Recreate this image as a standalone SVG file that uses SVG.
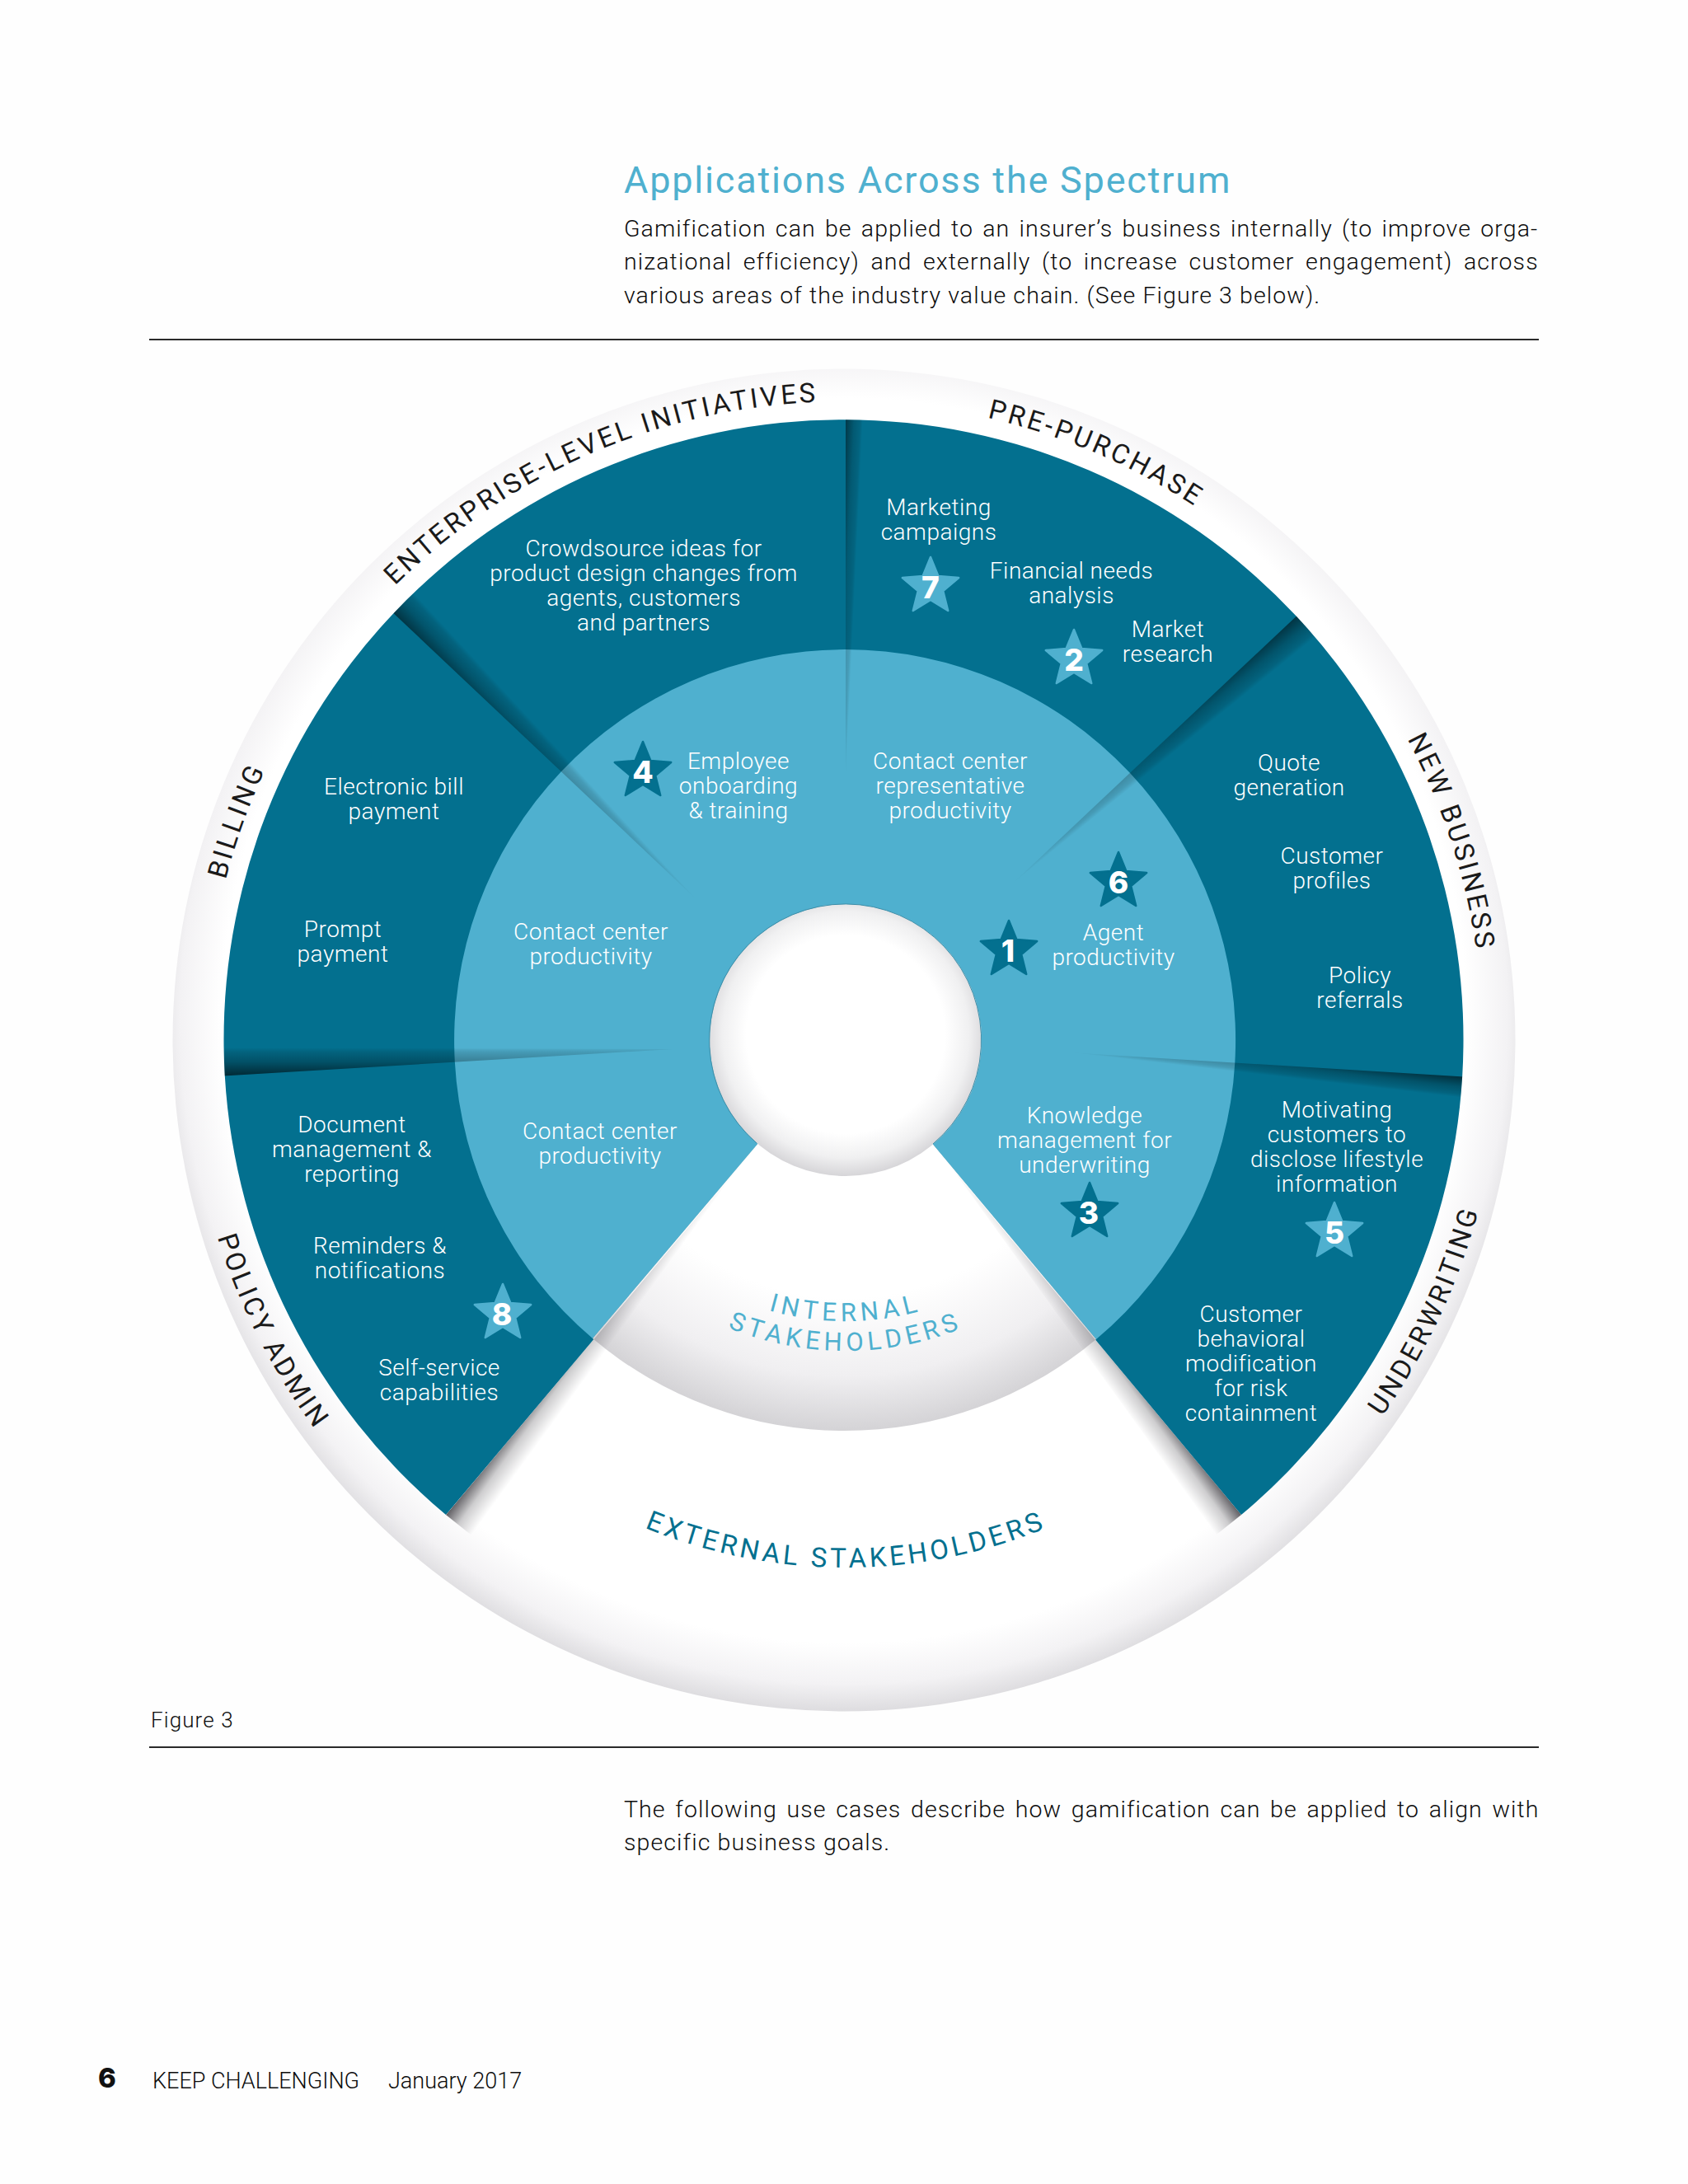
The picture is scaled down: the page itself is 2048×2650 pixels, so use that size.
<svg xmlns="http://www.w3.org/2000/svg" width="2048" height="2650" viewBox="0 0 2048 2650">
<style>
text{font-family:Roboto,"Liberation Sans",sans-serif;font-weight:300}
.l{fill:#fff;font-size:28px;text-anchor:middle;letter-spacing:.5px;font-weight:300}
.p{fill:#0c0c0c;font-size:28.5px;font-weight:300;letter-spacing:1.1px}
.f{fill:#0c0c0c;font-size:27px;font-weight:300;letter-spacing:0}
.r{fill:#1a1a1a;font-size:33px;text-anchor:middle;letter-spacing:3.4px;font-weight:400}
.n{fill:#fff;font-family:Inter,"Liberation Sans",sans-serif;font-weight:800;font-size:37px;text-anchor:middle}
.rule{stroke:#2a2a2a;stroke-width:2}
</style>
<defs>
<radialGradient id="ringG" gradientUnits="userSpaceOnUse" cx="1024" cy="1238" r="839">
<stop offset=".9" stop-color="#fff"/><stop offset=".96" stop-color="#f3f2f4"/><stop offset="1" stop-color="#dddcdf"/>
</radialGradient>
<radialGradient id="intG" gradientUnits="userSpaceOnUse" cx="1026" cy="1262" r="474">
<stop offset=".66" stop-color="#fff"/><stop offset=".86" stop-color="#f0eff1"/><stop offset="1" stop-color="#d4d3d6"/>
</radialGradient>
<radialGradient id="holeG" gradientUnits="userSpaceOnUse" cx="1026" cy="1255" r="172">
<stop offset=".7" stop-color="#fff"/><stop offset=".87" stop-color="#f0f0f1"/><stop offset="1" stop-color="#d6d5d8"/>
</radialGradient>
<linearGradient id="s1" gradientUnits="userSpaceOnUse" x1="1047" y1="506" x2="1026" y2="505"><stop offset="0" stop-opacity="0"/><stop offset=".15" stop-opacity=".11"/><stop offset=".5" stop-opacity=".2"/><stop offset="1" stop-opacity=".5"/></linearGradient>
<linearGradient id="s2" gradientUnits="userSpaceOnUse" x1="497" y1="714" x2="471" y2="738"><stop offset="0" stop-opacity="0"/><stop offset=".15" stop-opacity=".12"/><stop offset=".5" stop-opacity=".25"/><stop offset="1" stop-opacity=".55"/></linearGradient>
<linearGradient id="s3" gradientUnits="userSpaceOnUse" x1="1602" y1="768" x2="1580" y2="741"><stop offset="0" stop-opacity="0"/><stop offset=".15" stop-opacity=".12"/><stop offset=".5" stop-opacity=".25"/><stop offset="1" stop-opacity=".55"/></linearGradient>
<linearGradient id="s4" gradientUnits="userSpaceOnUse" x1="1783" y1="1333" x2="1786" y2="1307"><stop offset="0" stop-opacity="0"/><stop offset=".15" stop-opacity=".12"/><stop offset=".5" stop-opacity=".26"/><stop offset="1" stop-opacity=".6"/></linearGradient>
<linearGradient id="s5" gradientUnits="userSpaceOnUse" x1="262" y1="1271" x2="262" y2="1306"><stop offset="0" stop-opacity="0"/><stop offset=".15" stop-opacity=".12"/><stop offset=".5" stop-opacity=".28"/><stop offset="1" stop-opacity=".65"/></linearGradient>
<linearGradient id="s6" gradientUnits="userSpaceOnUse" x1="563" y1="1875" x2="530" y2="1851"><stop offset="0" stop-color="#3a383e" stop-opacity="0"/><stop offset=".5" stop-color="#3a383e" stop-opacity=".25"/><stop offset="1" stop-color="#3a383e" stop-opacity=".85"/></linearGradient>
<linearGradient id="s7" gradientUnits="userSpaceOnUse" x1="1486" y1="1877" x2="1519" y2="1853"><stop offset="0" stop-color="#3a383e" stop-opacity="0"/><stop offset=".5" stop-color="#3a383e" stop-opacity=".25"/><stop offset="1" stop-color="#3a383e" stop-opacity=".85"/></linearGradient>
<clipPath id="cBlue"><path d="M1026 1262L541 1838A752 752 0 1 1 1506 1838Z"/></clipPath>
<clipPath id="cWhite"><path d="M1026 1262L541 1838A752 752 0 0 0 1506 1838Z"/></clipPath>
<path id="cw" d="M1024 487A775 775 0 1 1 1023.9 487"/>
<path id="ccw" d="M1024 465A797 797 0 1 0 1024.1 465"/>
<path id="ext" d="M1026 622A640 640 0 1 0 1026.1 622"/>
<path id="int1" d="M1026 921A341 341 0 1 0 1026.1 921"/>
<path id="int2" d="M1026 885A377 377 0 1 0 1026.1 885"/>
<polygon id="star" points="0,-36 9.4,-13 34.2,-11 15.2,5 21.2,29 0,16 -21.2,29 -15.2,5 -34.2,-11 -9.4,-13" stroke-linejoin="round" stroke-width="2.5"/>
</defs>
<rect width="2048" height="2650" fill="#fefefe"/>

<g id="page-header">
<text x="757" y="234" style="font-size:45px;fill:#4FB0CF;letter-spacing:1.8px;font-weight:400">Applications Across the Spectrum</text>
<text class="p" x="757" y="287" style="word-spacing:3.1px">Gamification can be applied to an insurer’s business internally (to improve orga-</text>
<text class="p" x="757" y="327" style="word-spacing:5.5px">nizational efficiency) and externally (to increase customer engagement) across</text>
<text class="p" x="757" y="368">various areas of the industry value chain. (See Figure 3 below).</text>
<line class="rule" x1="181" y1="412" x2="1867" y2="412"/>
</g>

<g id="wheel-base">
<circle cx="1024" cy="1262" r="814.5" fill="url(#ringG)"/>
<path id="sector-blue" d="M1026 1262L541 1838A752 752 0 1 1 1506 1838Z" fill="#03708F"/>
<path id="sector-light" d="M1026 1262L719 1624A474 474 0 1 1 1330 1625Z" fill="#4FB0CF"/>
<path id="sector-internal" d="M1026 1262L719 1624A474 474 0 0 0 1330 1625Z" fill="url(#intG)"/>
</g>

<g id="connectors">
<g clip-path="url(#cBlue)">
<polygon points="1026,1056 1026,505 1047,505" fill="url(#s1)"/>
<polygon points="870,1115 471,738 496,713" fill="url(#s2)"/>
<polygon points="1183,1115 1580,741 1604,766" fill="url(#s3)"/>
<polygon points="1229,1273 1786,1307 1786,1333" fill="url(#s4)"/>
<polygon points="816,1273 262,1306 262,1271" fill="url(#s5)"/>
</g>
<g clip-path="url(#cWhite)">
<polygon points="897,1415 530,1851 562,1877" fill="url(#s6)"/>
<polygon points="1154,1416 1519,1853 1488,1879" fill="url(#s7)"/>
</g>
</g>

<g id="hub"><circle cx="1026" cy="1262" r="165" fill="url(#holeG)"/><path d="M918 1387A165 165 0 1 1 1132 1388" fill="none" stroke="#3e8ea8" stroke-width="1"/></g>

<g id="ring-labels">
<text class="r"><textPath href="#cw" startOffset="4551">ENTERPRISE-LEVEL INITIATIVES</textPath></text>
<text class="r"><textPath href="#cw" startOffset="314">PRE-PURCHASE</textPath></text>
<text class="r"><textPath href="#cw" startOffset="973">NEW BUSINESS</textPath></text>
<text class="r"><textPath href="#cw" startOffset="3920">BILLING</textPath></text>
<text class="r"><textPath href="#ccw" startOffset="3408">UNDERWRITING</textPath></text>
<text class="r"><textPath href="#ccw" startOffset="1627">POLICY ADMIN</textPath></text>
<text class="r" style="fill:#03708F;letter-spacing:4.2px"><textPath href="#ext" startOffset="2010.6">EXTERNAL STAKEHOLDERS</textPath></text>
<text class="r" style="fill:#4FB0CF;font-size:31px;letter-spacing:5.6px"><textPath href="#int1" startOffset="1071">INTERNAL</textPath></text>
<text class="r" style="fill:#4FB0CF;font-size:31px;letter-spacing:5.4px"><textPath href="#int2" startOffset="1184">STAKEHOLDERS</textPath></text>
</g>

<g id="enterprise"><text class="l"><tspan x="781" y="675">Crowdsource ideas for</tspan><tspan x="781" y="705">product design changes from</tspan><tspan x="781" y="735">agents, customers</tspan><tspan x="781" y="765">and partners</tspan></text></g>
<g id="pre-purchase">
<text class="l"><tspan x="1139" y="625">Marketing</tspan><tspan x="1139" y="655">campaigns</tspan></text>
<text class="l"><tspan x="1300" y="702">Financial needs</tspan><tspan x="1300" y="732">analysis</tspan></text>
<text class="l"><tspan x="1417" y="773">Market</tspan><tspan x="1417" y="803">research</tspan></text>
</g>
<g id="new-business">
<text class="l"><tspan x="1564" y="935">Quote</tspan><tspan x="1564" y="965">generation</tspan></text>
<text class="l"><tspan x="1616" y="1048">Customer</tspan><tspan x="1616" y="1078">profiles</tspan></text>
<text class="l"><tspan x="1650" y="1193">Policy</tspan><tspan x="1650" y="1223">referrals</tspan></text>
</g>
<g id="underwriting">
<text class="l"><tspan x="1622" y="1356">Motivating</tspan><tspan x="1622" y="1386">customers to</tspan><tspan x="1622" y="1416">disclose lifestyle</tspan><tspan x="1622" y="1446">information</tspan></text>
<text class="l"><tspan x="1518" y="1604">Customer</tspan><tspan x="1518" y="1634">behavioral</tspan><tspan x="1518" y="1664">modification</tspan><tspan x="1518" y="1694">for risk</tspan><tspan x="1518" y="1724">containment</tspan></text>
</g>
<g id="policy-admin">
<text class="l"><tspan x="427" y="1374">Document</tspan><tspan x="427" y="1404">management &amp;</tspan><tspan x="427" y="1434">reporting</tspan></text>
<text class="l"><tspan x="461" y="1521">Reminders &amp;</tspan><tspan x="461" y="1551">notifications</tspan></text>
<text class="l"><tspan x="533" y="1669">Self-service</tspan><tspan x="533" y="1699">capabilities</tspan></text>
</g>
<g id="billing">
<text class="l"><tspan x="478" y="964">Electronic bill</tspan><tspan x="478" y="994">payment</tspan></text>
<text class="l"><tspan x="416" y="1137">Prompt</tspan><tspan x="416" y="1167">payment</tspan></text>
</g>
<g id="inner-labels">
<text class="l"><tspan x="896" y="933">Employee</tspan><tspan x="896" y="963">onboarding</tspan><tspan x="896" y="993">&amp; training</tspan></text>
<text class="l"><tspan x="1153" y="933">Contact center</tspan><tspan x="1153" y="963">representative</tspan><tspan x="1153" y="993">productivity</tspan></text>
<text class="l"><tspan x="717" y="1140">Contact center</tspan><tspan x="717" y="1170">productivity</tspan></text>
<text class="l"><tspan x="1351" y="1141">Agent</tspan><tspan x="1351" y="1171">productivity</tspan></text>
<text class="l"><tspan x="728" y="1382">Contact center</tspan><tspan x="728" y="1412">productivity</tspan></text>
<text class="l"><tspan x="1316" y="1363">Knowledge</tspan><tspan x="1316" y="1393">management for</tspan><tspan x="1316" y="1423">underwriting</tspan></text>
</g>

<g id="star-1"><use href="#star" x="1224" y="1153" fill="#03708F" stroke="#03708F"/><text class="n" x="1223" y="1167">1</text></g>
<g id="star-2"><use href="#star" x="1303" y="800" fill="#4FB0CF" stroke="#4FB0CF"/><text class="n" x="1303" y="814">2</text></g>
<g id="star-3"><use href="#star" x="1322" y="1471" fill="#03708F" stroke="#03708F"/><text class="n" x="1321" y="1485">3</text></g>
<g id="star-4"><use href="#star" x="780" y="936" fill="#03708F" stroke="#03708F"/><text class="n" x="780" y="950">4</text></g>
<g id="star-5"><use href="#star" x="1619" y="1495" fill="#4FB0CF" stroke="#4FB0CF"/><text class="n" x="1619" y="1509">5</text></g>
<g id="star-6"><use href="#star" x="1357" y="1070" fill="#03708F" stroke="#03708F"/><text class="n" x="1357" y="1084">6</text></g>
<g id="star-7"><use href="#star" x="1129" y="712" fill="#4FB0CF" stroke="#4FB0CF"/><text class="n" x="1129" y="726">7</text></g>
<g id="star-8"><use href="#star" x="610" y="1594" fill="#4FB0CF" stroke="#4FB0CF"/><text class="n" x="609" y="1608">8</text></g>

<g id="page-footer">
<text x="183" y="2096" class="p" style="font-size:26px">Figure 3</text>
<line class="rule" x1="181" y1="2120" x2="1867" y2="2120"/>
<text class="p" x="757" y="2205" style="word-spacing:3.6px">The following use cases describe how gamification can be applied to align with</text>
<text class="p" x="757" y="2245">specific business goals.</text>
<text x="119" y="2533" style="font-family:Inter,'Liberation Sans',sans-serif;font-size:33px;font-weight:800;fill:#111">6</text>
<text x="185" y="2534" class="f">KEEP CHALLENGING</text>
<text x="471" y="2534" class="f">January 2017</text>
</g>
</svg>
